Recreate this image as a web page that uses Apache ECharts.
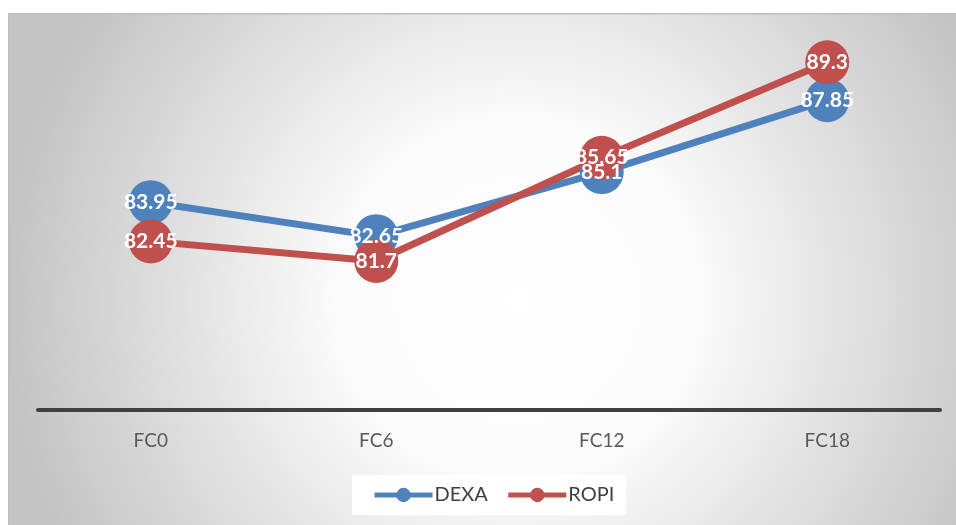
<!DOCTYPE html>
<html>
<head>
<meta charset="utf-8">
<script src="https://cdn.jsdelivr.net/npm/echarts@6/dist/echarts.min.js"></script>
<style>
	html, body { margin: 0; padding: 0; background: #fff; }
	#chart { width: 956px; height: 525px; }
</style>
</head>
<body>
<div id="chart"></div>
<script>
// data
var categories = ['FC0', 'FC6', 'FC12', 'FC18'];
var dexa = [83.95, 82.65, 85.1, 87.85];
var ropi = [82.45, 81.7, 85.65, 89.3];

var blue = '#4f81bd';
var red = '#c0504d';

let chart = echarts.init(document.getElementById('chart'));

function lineSeries(name, data, color) {
	return {
		name: name,
		type: 'line',
		data: data,
		symbol: 'circle',
		symbolSize: 44,
		itemStyle: { color: color },
		lineStyle: { color: color, width: 7 },
		label: {
			show: true,
			position: 'inside',
			color: '#fff',
			fontFamily: 'Lato',
			fontWeight: 'bold',
			fontSize: 21
		},
		z: 3
	};
}

let chartOption = {
	animation: false,
	graphic: [{
		type: 'rect',
		left: 8,
		top: 13,
		z: -10,
		shape: { width: 960, height: 520 },
		style: {
			fill: new echarts.graphic.RadialGradient(0.53, 0.55, 0.98, [
				{ offset: 0, color: '#ffffff' },
				{ offset: 0.35, color: '#fbfbfb' },
				{ offset: 1, color: '#c4c4c4' }
			]),
			stroke: '#bfbfbf',
			lineWidth: 1.5
		},
		silent: true
	}],
	grid: {
		left: 38,
		right: 16,
		top: 44,
		bottom: 115
	},
	legend: {
		bottom: 10,
		left: 352,
		padding: [10, 12, 10, 20],
		backgroundColor: '#ffffff',
		itemWidth: 58,
		itemHeight: 18,
		itemGap: 18,
		lineStyle: { width: 5 },
		textStyle: { color: '#404040', fontSize: 20, fontFamily: 'Lato', padding: [0, 0, 0, -3] },
		data: ['DEXA', 'ROPI']
	},
	xAxis: {
		type: 'category',
		data: categories,
		axisLine: { lineStyle: { color: '#404040', width: 4 } },
		axisTick: { show: false },
		axisLabel: { color: '#595959', fontSize: 19, fontFamily: 'Lato', margin: 21 }
	},
	yAxis: {
		type: 'value',
		min: 76,
		max: 90,
		interval: 2,
		show: false,
		splitLine: { show: false }
	},
	series: [
		lineSeries('DEXA', dexa, blue),
		lineSeries('ROPI', ropi, red)
	]
};

chart.setOption(chartOption);
</script>
</body>
</html>
